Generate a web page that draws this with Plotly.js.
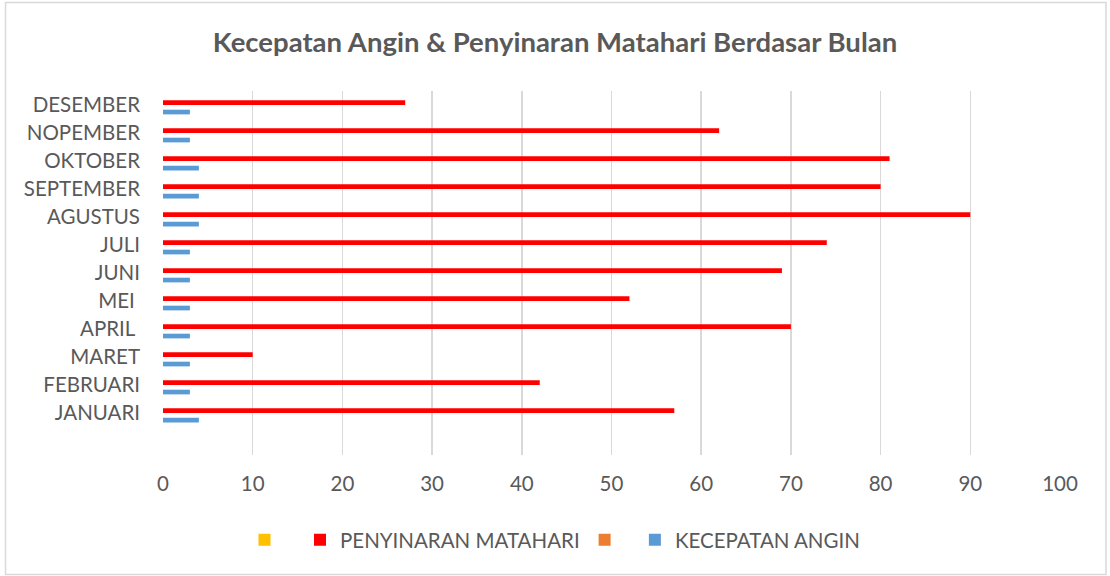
<!DOCTYPE html>
<html>
<head>
<meta charset="utf-8">
<script src="https://cdn.plot.ly/plotly-3.0.1.min.js"></script>
<style>
html,body{margin:0;padding:0;background:#fff;}
#chart{width:1110px;height:576px;}
</style>
</head>
<body>
<div id="chart"></div>
<script>
const months = ["JANUARI","FEBRUARI","MARET","APRIL\u00a0","MEI\u00a0","JUNI","JULI","AGUSTUS","SEPTEMBER","OKTOBER","NOPEMBER","DESEMBER"];
const penyinaranMatahari = [57,42,10,70,52,69,74,90,80,81,62,27];
const kecepatanAngin = [4,3,3,3,3,3,3,4,4,4,3,3];
const seriesKosong1 = [null,null,null,null,null,null,null,null,null,null,null,null];
const seriesKosong2 = [null,null,null,null,null,null,null,null,null,null,null,null];
const xTicks = [0,10,20,30,40,50,60,70,80,90,100];

const txt = '#595959';
const fontFam = 'Lato, "Open Sans", sans-serif';

const traces = [
  {type:'bar', orientation:'h', name:'KECEPATAN ANGIN', y:months, x:kecepatanAngin,
   marker:{color:'#5B9BD5', line:{width:0}}, hoverinfo:'x+y'},
  {type:'bar', orientation:'h', name:' ', y:months, x:seriesKosong2,
   marker:{color:'#ED7D31', line:{width:0}}},
  {type:'bar', orientation:'h', name:'PENYINARAN MATAHARI', y:months, x:penyinaranMatahari,
   marker:{color:'#FF0000', line:{width:0}}, hoverinfo:'x+y'},
  {type:'bar', orientation:'h', name:'  ', y:months, x:seriesKosong1,
   marker:{color:'#FFC000', line:{width:0}}}
];

const layout = {
  width:1110, height:576,
  paper_bgcolor:'#fff', plot_bgcolor:'#fff',
  margin:{l:163, r:50, t:91, b:121, pad:0},
  font:{family:fontFam, color:txt},
  title:{text:'<b>Kecepatan Angin &amp; Penyinaran Matahari Berdasar Bulan</b>',
         font:{family:fontFam, size:27.5, color:txt},
         x:0.5, xref:'container', xanchor:'center',
         y:1-42/576, yref:'container', yanchor:'middle'},
  barmode:'group', bargap:0.33, bargroupgap:0,
  xaxis:{range:[0,100], tickvals:xTicks, ticktext:xTicks.map(String),
         showgrid:true, gridcolor:'#d9d9d9', gridwidth:1.5,
         zeroline:false, showline:false, ticks:'',
         tickfont:{family:fontFam, size:20.5, color:txt}, ticklabelstandoff:14,
         fixedrange:true},
  yaxis:{type:'category', categoryorder:'array', categoryarray:months,
         range:[-1.5, 11.5], showgrid:false, zeroline:false, showline:false, ticks:'',
         tickfont:{family:fontFam, size:20.5, color:txt}, ticklabelstandoff:22,
         fixedrange:true},
  showlegend:true,
  legend:{orientation:'h', traceorder:'reversed', x:0.5, xref:'container', xanchor:'center',
          y:1-540/576, yref:'container', yanchor:'middle',
          font:{family:fontFam, size:20.5, color:txt}, bgcolor:'rgba(0,0,0,0)'},
  shapes:[{type:'rect', xref:'paper', yref:'paper',
           x0:(5.5-163)/897, x1:(1106-163)/897, y0:(455-574.5)/364, y1:(455-2.5)/364,
           line:{color:'#d9d9d9', width:1.5}, fillcolor:'rgba(0,0,0,0)', layer:'below'}]
};

Plotly.newPlot('chart', traces, layout, {displayModeBar:false, staticPlot:true});
</script>
</body>
</html>
